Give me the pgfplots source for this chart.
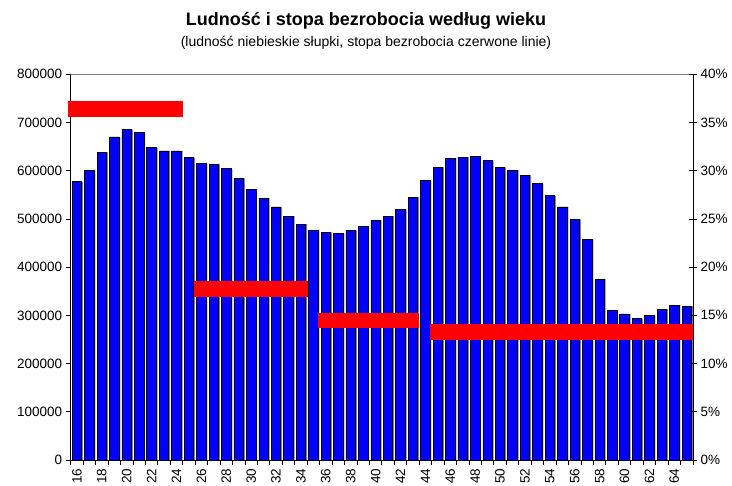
\documentclass[border=0pt]{standalone}
\usepackage{pgfplots}
\usepackage{pgfplotstable}
\pgfplotsset{compat=1.18}
\usepackage{fontspec}
\setmainfont{Liberation Sans}
\definecolor{xlblue}{RGB}{0,0,255}
\definecolor{xlred}{RGB}{255,0,0}
\definecolor{xlgray}{RGB}{128,128,128}
\pgfplotstableread{
age pop
16 577000
17 601000
18 638000
19 670000
20 685000
21 680000
22 648000
23 641000
24 641000
25 627000
26 615000
27 613000
28 604000
29 584000
30 562000
31 543000
32 525000
33 506000
34 489000
35 476000
36 472000
37 470000
38 476000
39 485000
40 497000
41 506000
42 519000
43 545000
44 579000
45 607000
46 626000
47 628000
48 630000
49 621000
50 607000
51 601000
52 591000
53 573000
54 548000
55 525000
56 499000
57 458000
58 375000
59 311000
60 303000
61 293000
62 299000
63 313000
64 321000
65 319000
}\popdata
\begin{document}
\begin{tikzpicture}
\pgfplotsset{
  common/.style={
    at={(70.7bp,26bp)}, anchor=south west,
    scale only axis, width=622.3bp, height=385.7bp,
    xmin=15.5, xmax=65.5,
    ticklabel style={font=\fontsize{13.5bp}{16bp}\selectfont},
    /pgf/number format/assume math mode=true,
  }
}
\begin{axis}[common,
  ymin=0, ymax=800000,
  axis x line*=bottom, axis y line*=left,
  axis line style={black, line width=0.8bp},
  ytick={0,100000,200000,300000,400000,500000,600000,700000,800000},
  scaled y ticks=false,
  yticklabel style={/pgf/number format/fixed, /pgf/number format/1000 sep={}},
  xtick={16,18,...,64},
  minor xtick={15.5,16.5,...,65.5},
  major x tick style={draw=none},
  minor x tick style={black, line width=0.8bp},
  y tick style={black, line width=0.8bp},
  tick align=outside,
  major tick length=5bp, minor tick length=5bp,
  xticklabel style={rotate=90, anchor=east},
  ybar, bar width=9.5bp,
]
\addplot[ybar, bar shift=1.3bp, fill=xlgray, draw=none] table[x=age,y=pop] {\popdata};
\addplot[ybar, bar shift=0bp, fill=xlblue, draw=black, line width=0.7bp] table[x=age,y=pop] {\popdata};
\draw[xlgray, line width=0.8bp] (rel axis cs:0,1) -- (rel axis cs:1,1);
\end{axis}
\begin{axis}[common,
  ymin=0, ymax=40,
  axis x line=none, axis y line*=right,
  axis line style={black, line width=0.8bp},
  ytick={0,5,...,40},
  yticklabel={\pgfmathprintnumber{\tick}\%},
  y tick style={black, line width=0.8bp},
  tick align=center, major tick length=8bp,
  clip=false,
]
\addplot[xlred, line width=15.5bp, line cap=butt] coordinates {(15.31,36.4) (24.54,36.4)};
\addplot[xlred, line width=15.5bp, line cap=butt] coordinates {(25.40,17.75) (34.56,17.75)};
\addplot[xlred, line width=15.5bp, line cap=butt] coordinates {(35.39,14.45) (43.52,14.45)};
\addplot[xlred, line width=15.5bp, line cap=butt] coordinates {(44.33,13.3) (65.5,13.3)};
\end{axis}
\node[anchor=base, font=\bfseries\fontsize{18bp}{20bp}\selectfont] at (366bp,460bp) {Ludność i stopa bezrobocia według wieku};
\node[anchor=base, font=\fontsize{14bp}{16bp}\selectfont] at (366bp,439bp) {(ludność niebieskie słupki, stopa bezrobocia czerwone linie)};
\pgfresetboundingbox
\path (0bp,0bp) rectangle (732bp,486bp);
\end{tikzpicture}
\end{document}
